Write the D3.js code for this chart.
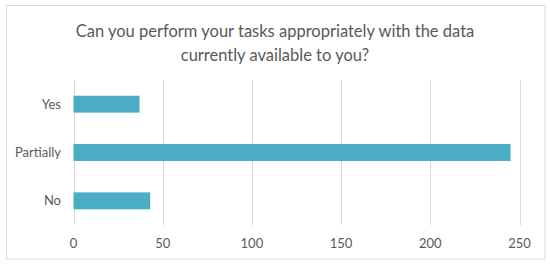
<!DOCTYPE html>
<html><head><meta charset="utf-8">
<script src="https://cdn.jsdelivr.net/npm/d3@7"></script>
<style>body{margin:0;background:#fff;}svg{display:block;font-family:Lato,sans-serif;}</style>
</head><body><svg id="c" width="550" height="265"></svg>
<script>
const categories = ["Yes", "Partially", "No"];
const values = [37, 245, 43];
const xTicks = [0, 50, 100, 150, 200, 250];
const titleLines = ["Can you perform your tasks appropriately with the data", "currently available to you?"];

const svg = d3.select("#c");
svg.append("rect").attr("x",6.5).attr("y",5.5).attr("width",538.5).attr("height",253.5)
  .attr("fill","#fff").attr("stroke","#d9d9d9").attr("stroke-width",1);

const x = d3.scaleLinear().domain([0,250]).range([73.5,519.5]);
const y = d3.scaleBand().domain(categories).range([80,225]).paddingInner(0.65).paddingOuter(0.325);

svg.append("g").selectAll("line").data(xTicks).join("line")
  .attr("x1",d=>Math.round(x(d))+0.5).attr("x2",d=>Math.round(x(d))+0.5)
  .attr("y1",80).attr("y2",225).attr("stroke","#d9d9d9").attr("stroke-width",1);

svg.append("g").selectAll("rect").data(values).join("rect")
  .attr("x",x(0)).attr("y",(d,i)=>y(categories[i]))
  .attr("width",d=>x(d)-x(0)).attr("height",y.bandwidth())
  .attr("fill","#4bacc6");

svg.append("g").selectAll("text").data(xTicks).join("text")
  .attr("x",d=>x(d)).attr("y",248).attr("text-anchor","middle")
  .attr("font-size",13).attr("fill","#595959").text(d=>d);

svg.append("g").selectAll("text").data(categories).join("text")
  .attr("x",61).attr("y",d=>y(d)+y.bandwidth()/2+4.5).attr("text-anchor","end")
  .attr("font-size",13).attr("fill","#595959").text(d=>d);

svg.append("g").selectAll("text").data(titleLines).join("text")
  .attr("x",275).attr("y",(d,i)=>37+i*24).attr("text-anchor","middle")
  .attr("font-size",16.5).attr("fill","#595959").text(d=>d);
</script></body></html>
